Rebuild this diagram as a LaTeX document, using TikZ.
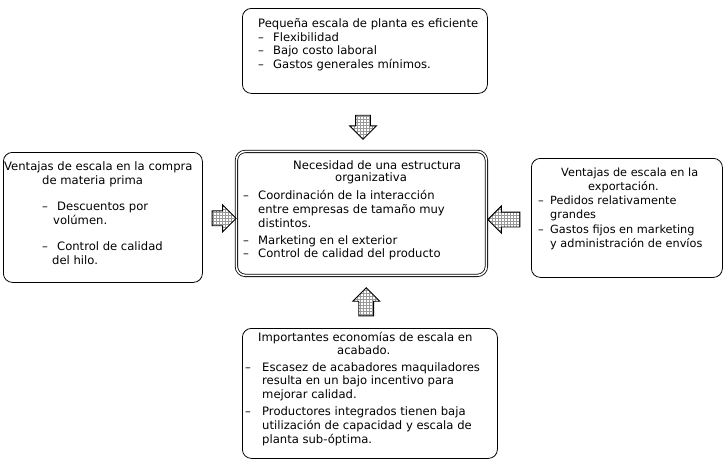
\documentclass[tikz,border=0pt]{standalone}
\usepackage{fontspec}
\setmainfont{DejaVu Sans}
\usetikzlibrary{shapes.arrows,patterns,calc}
\newcommand{\guion}{\makebox[15pt][l]{–}}

\begin{document}
\begin{tikzpicture}[x=1pt,y=-1pt,
  box/.style={draw,line width=0.8pt,rounded corners=9pt,anchor=north west,inner sep=0pt},
  txt/.style={anchor=north west,align=left,inner sep=0pt,font=\fontsize{11.6}{13.8}\selectfont},
  blockarrow/.style={single arrow,draw,line width=0.9pt,
    minimum height=24pt,single arrow head extend=6pt,
    preaction={fill=white},pattern=grid,pattern color=gray!80},
  harrow/.style={blockarrow,inner xsep=0pt,inner ysep=7pt},
  varrow/.style={blockarrow,inner xsep=7pt,inner ysep=0pt}]
  \useasboundingbox (0,0) rectangle (723,461);
  % cajas
  \node[box,minimum width=245pt,minimum height=85pt] (planta) at (242,8) {};
  \node[box,minimum width=199pt,minimum height=130pt] (compra) at (3,152) {};
  \node[box,double,double distance=1.6pt,minimum width=250pt,minimum height=124pt] (centro) at (236,151) {};
  \node[box,minimum width=191pt,minimum height=119pt] (export) at (531,158) {};
  \node[box,minimum width=255pt,minimum height=130pt] (acabado) at (242,328) {};
  % textos
  \node[txt] (planta-txt) at (258,18) {Pequeña escala de planta es eficiente\\
    \guion Flexibilidad\\
    \guion Bajo costo laboral\\
    \guion Gastos generales mínimos.};
  \node[txt,font=\fontsize{11.6}{14.3}\selectfont] (compra-txt) at (4,161) {Ventajas de escala en la compra\\
    \hspace*{38pt}de materia prima\\[12pt]
    \hspace*{38pt}\guion Descuentos por\\
    \hspace*{49pt}volúmen.\\[11pt]
    \hspace*{38pt}\guion Control de calidad\\
    \hspace*{48pt}del hilo.};
  \node[txt] (centro-txt) at (243,160) {\hspace*{50pt}Necesidad de una estructura\\[-1pt]
    \hspace*{92pt}organizativa\\[4pt]
    \guion Coordinación de la interacción\\
    \hspace*{15pt}entre empresas de tamaño muy\\
    \hspace*{15pt}distintos.\\[3pt]
    \guion Marketing en el exterior\\
    \guion Control de calidad del producto};
  \node[txt,font=\fontsize{11.3}{13.8}\selectfont] (export-txt) at (538,168) {\hspace*{23pt}Ventajas de escala en la\\
    \hspace*{50pt}exportación.\\
    \makebox[12pt][l]{–}Pedidos relativamente\\
    \hspace*{12pt}grandes\\[2pt]
    \makebox[12pt][l]{–}Gastos fijos en marketing\\
    \hspace*{12pt}y administración de envíos};
  \node[txt] (acabado-txt) at (245,332) {\hspace*{13pt}Importantes economías de escala en\\[-1pt]
    \hspace*{92pt}acabado.\\[3pt]
    \makebox[17pt][l]{–}Escasez de acabadores maquiladores\\
    \hspace*{17pt}resulta en un bajo incentivo para\\
    \hspace*{17pt}mejorar calidad.\\[3pt]
    \makebox[17pt][l]{–}Productores integrados tienen baja\\
    \hspace*{17pt}utilización de capacidad y escala de\\
    \hspace*{17pt}planta sub-óptima.};
  % flechas
  \node[varrow,shape border rotate=270] (f1) at ($(planta.south)!0.52!(centro.north)$) {};
  \node[harrow,yshift=-3pt] (f2) at ($(compra.east)!0.53!(centro.west)$) {};
  \node[harrow,shape border rotate=180,minimum height=32pt,yshift=-4pt] (f3) at ($(export.west)!0.53!(centro.east)$) {};
  \node[varrow,shape border rotate=90,minimum height=28pt] (f4) at ($(acabado.north)!0.43!(centro.south)$) {};
\end{tikzpicture}
\end{document}
